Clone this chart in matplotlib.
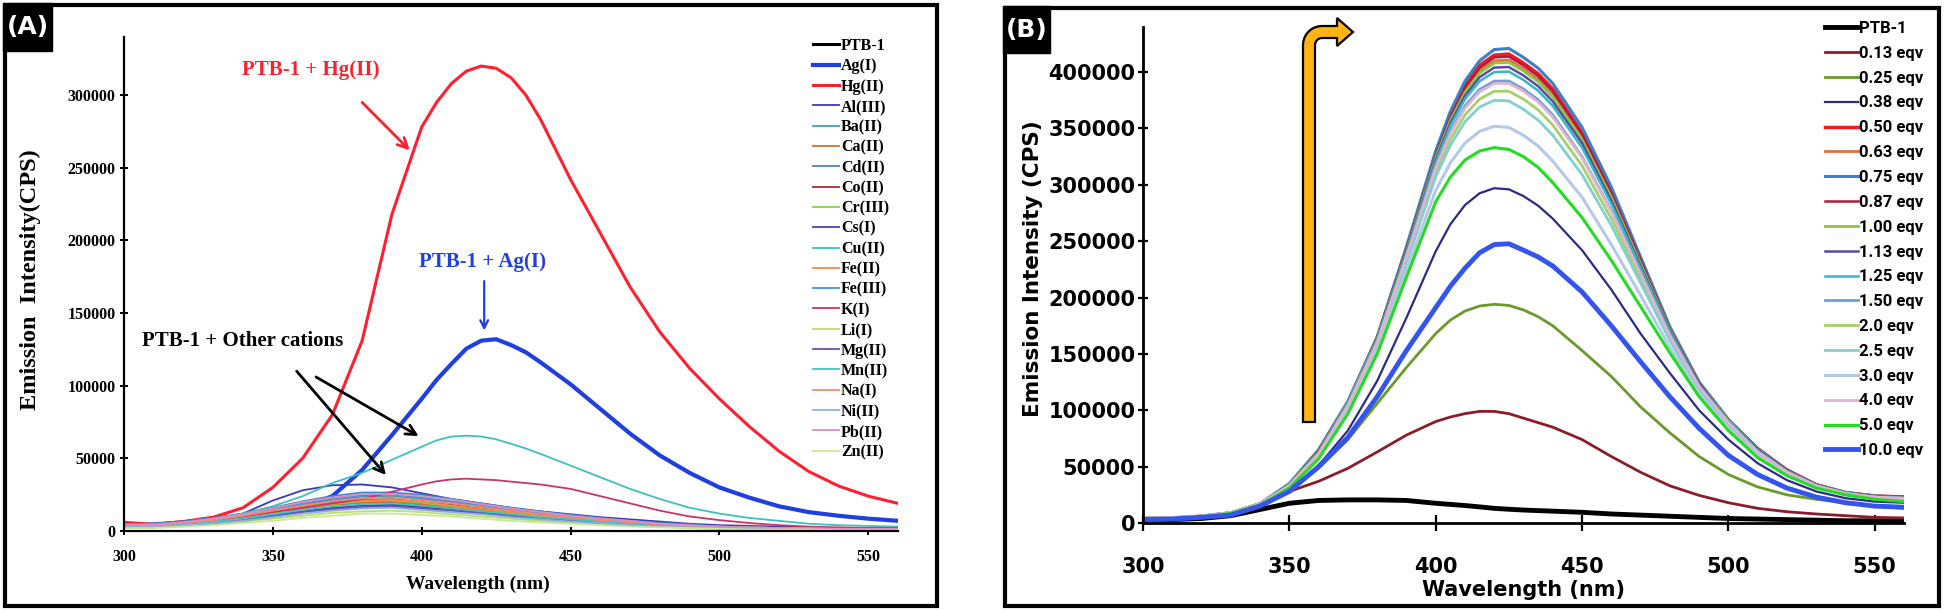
import numpy as np
import matplotlib
matplotlib.use("Agg")
import matplotlib.pyplot as plt
from matplotlib.patches import Rectangle, PathPatch
from matplotlib.path import Path
from matplotlib.font_manager import FontProperties

W, H = 1945, 610

wavelength = [300, 310, 320, 330, 340, 350, 360, 370, 380, 390, 400, 405, 410, 415, 420, 425,
              430, 435, 440, 450, 460, 470, 480, 490, 500, 510, 520, 530, 540, 550, 560]
xticks = [300, 350, 400, 450, 500, 550]

# ---- panel A: emission with different cations (values in 1000 CPS)
a_ptb1 = [3.5, 4, 5, 7, 10, 13, 16, 18.5, 20, 19.5, 18, 17, 16, 15, 14, 13, 12, 11, 10, 8.5, 7, 5.5, 4.5, 3.5, 3, 2.5, 2, 1.5, 1.5, 1, 1]
a_ag = [4, 4.5, 6, 8.5, 10, 12, 16, 24, 42, 66, 91, 104, 115, 125.5, 131, 132, 128, 123, 116, 101, 84, 67, 52, 40, 30, 23, 17, 13, 10.5, 8.5, 7]
a_hg = [6, 4.5, 6.5, 9.5, 16, 30, 50, 80, 131, 218, 278, 295, 308, 316.5, 320, 318.5, 312, 300, 283, 242, 205, 168, 137, 112, 91, 72, 55, 41, 31, 24, 19]
a_al = [3, 3.5, 5, 8, 12, 21, 28, 31.5, 32, 30, 26, 24, 22, 20.5, 19, 17.5, 16, 14.7, 13.5, 11.5, 9.5, 8, 6.5, 5, 4, 3.5, 3, 2.5, 2, 2, 2]
a_ba = [4, 4.5, 6, 8, 11, 14, 18, 21, 23.5, 24, 22, 20.8, 19.5, 18.2, 17, 15.7, 14.5, 13.2, 12, 10, 8, 6, 5, 4, 3, 2.5, 2, 1.5, 1.5, 1, 1]
a_ca = [3.5, 3.5, 5, 6.5, 9, 12, 15, 18, 19.5, 20, 18.5, 17.5, 16.5, 15.2, 14, 13, 12, 11, 10, 8, 6.5, 5, 4, 3, 2.5, 2, 1.5, 1.5, 1, 1, 1]
a_cd = [4.5, 5, 6.5, 9, 12, 16, 20.5, 24, 26.5, 26.5, 25, 23.5, 22, 20.5, 19, 17.5, 16, 14.7, 13.5, 11, 9, 7, 5.5, 4.5, 3, 2.5, 2, 2, 1.5, 1.5, 1.5]
a_co = [3.5, 4, 5.5, 7.5, 10, 13, 16.5, 19.5, 21.5, 22, 20, 19, 18, 16.7, 15.5, 14.2, 13, 12, 11, 9, 7.5, 5.5, 4.5, 3.5, 2.5, 2, 2, 1.5, 1.5, 1, 1]
a_cr = [3.5, 4, 5, 7, 9.5, 12.5, 16, 18.5, 20.5, 21, 19.5, 18.2, 17, 16, 15, 13.7, 12.5, 11.5, 10.5, 8.5, 7, 5.5, 4, 3.5, 2.5, 2, 1.5, 1.5, 1.5, 1, 1]
a_cs = [3, 3, 4.5, 6, 8, 11, 13.5, 16, 17.5, 18, 16.5, 15.7, 15, 14, 13, 12, 11, 10, 9, 7.5, 6, 4.5, 3.5, 3, 2, 2, 1.5, 1.5, 1, 1, 1]
a_cu = [3, 3.5, 5, 8, 12, 17, 24, 33, 40, 49, 58, 62.4, 65, 65.6, 65, 63.1, 60, 56.8, 53, 45, 37, 29, 22, 16, 12, 9, 7, 5, 4, 3.5, 3]
a_fe2 = [3.5, 4, 5.5, 7, 10, 13, 16.5, 19, 21, 21.5, 20, 18.7, 17.5, 16.2, 15, 14, 13, 12, 11, 9, 7, 5.5, 4.5, 3.5, 2.5, 2, 2, 1.5, 1.5, 1, 1]
a_fe3 = [4, 4.5, 6, 8.5, 11.5, 15, 19, 22, 24.5, 25, 23, 21.7, 20.5, 19.2, 18, 16.5, 15, 13.7, 12.5, 10.5, 8.5, 6.5, 5, 4, 3, 2.5, 2, 2, 1.5, 1.5, 1.5]
a_k = [3, 3.5, 5, 7.5, 10, 13, 16, 19, 22, 27, 32, 34.2, 35.5, 36, 35.5, 35, 34, 33, 32, 29, 24, 19, 14, 10, 7.5, 5.5, 4, 3, 2.5, 2, 2]
a_li = [2.5, 2.5, 3.5, 4.5, 6.5, 8.5, 10.5, 12.5, 13.5, 14, 13, 12.2, 11.5, 10.7, 10, 9.2, 8.5, 7.7, 7, 5.5, 4.5, 3.5, 3, 2, 1.5, 1.5, 1, 1, 1, 0.5, 0.5]
a_mg = [3, 3, 4, 5.5, 7.5, 10, 13, 15, 16.5, 17, 15.5, 14.7, 14, 13, 12, 11, 10, 9.2, 8.5, 7, 5.5, 4.5, 3.5, 2.5, 2, 1.5, 1.5, 1, 1, 1, 1]
a_mn = [3, 3.5, 4.5, 6.5, 8.5, 11.5, 14.5, 17, 18.5, 19, 17.5, 16.5, 15.5, 14.5, 13.5, 12.5, 11.5, 10.5, 9.5, 8, 6.5, 5, 4, 3, 2.5, 2, 1.5, 1.5, 1, 1, 1]
a_na = [4, 4, 5.5, 7.5, 10.5, 14, 17.5, 20.5, 22.5, 23, 21, 20, 19, 17.7, 16.5, 15.2, 14, 12.7, 11.5, 9.5, 7.5, 6, 4.5, 3.5, 3, 2.5, 2, 1.5, 1.5, 1, 1]
a_ni = [2.5, 3, 4, 5.5, 7, 9.5, 12, 14, 15.5, 16, 14.5, 13.7, 13, 12.2, 11.5, 10.5, 9.5, 8.7, 8, 6.5, 5.5, 4, 3, 2.5, 2, 1.5, 1.5, 1, 1, 1, 1]
a_pb = [4.5, 4.5, 6, 8.5, 11.5, 15.5, 20, 23, 25.5, 25.5, 24, 22.7, 21.5, 20, 18.5, 17, 15.5, 14.2, 13, 10.5, 8.5, 7, 5, 4, 3, 2.5, 2, 2, 1.5, 1.5, 1.5]
a_zn = [2, 2, 3, 4, 5.5, 7, 9, 10.5, 12, 12, 11, 10.5, 10, 9.2, 8.5, 7.7, 7, 6.5, 6, 5, 4, 3, 2.5, 2, 1.5, 1, 1, 1, 0.5, 0.5, 0.5]

a_labels = ["PTB-1", "Ag(I)", "Hg(II)", "Al(III)", "Ba(II)", "Ca(II)", "Cd(II)", "Co(II)",
            "Cr(III)", "Cs(I)", "Cu(II)", "Fe(II)", "Fe(III)", "K(I)", "Li(I)", "Mg(II)",
            "Mn(II)", "Na(I)", "Ni(II)", "Pb(II)", "Zn(II)"]
a_values = [a_ptb1, a_ag, a_hg, a_al, a_ba, a_ca, a_cd, a_co, a_cr, a_cs, a_cu, a_fe2,
            a_fe3, a_k, a_li, a_mg, a_mn, a_na, a_ni, a_pb, a_zn]
a_colors = ["#000000", "#1f3fe0", "#ff1f2f", "#3a3ab8", "#3aa6b0", "#d0702a", "#3d86d0",
            "#b02838", "#90d040", "#5040b0", "#3cc0c0", "#f4884a", "#4a90d9", "#cc3366",
            "#b8e06a", "#6a50b8", "#40c4c4", "#f08a70", "#8fb0d8", "#e08cc0", "#c8ea98"]
a_widths = [2.2, 3.0, 2.2] + [1.3] * 18
a_yticks = [0, 50000, 100000, 150000, 200000, 250000, 300000]

# ---- panel B: titration with Hg(II) (values in 1000 CPS)
b_ptb1 = [3, 3, 4, 6.5, 12, 17.5, 20, 20.5, 20.5, 20, 17.5, 16.5, 15.5, 14.3, 13, 12.2, 11.5, 11, 10.5, 9.5, 8, 7, 6, 5, 4, 3.5, 3, 2.5, 2, 2, 2]
b_013 = [4, 4, 5.5, 8, 16, 28, 37, 48.5, 63, 78, 90, 94, 97, 99, 99, 97, 93, 89, 85, 74, 59, 45, 33, 24.5, 18, 13, 10, 8, 6.5, 5, 4.5]
b_025 = [4, 4, 5.5, 7, 15, 29, 48.5, 74, 106, 138, 168, 180, 188, 192.5, 194, 193, 189, 183, 175, 153, 130, 103, 80, 59, 43, 32, 25, 21, 18, 15, 13]
b_038 = [4, 4, 5.5, 8, 15, 29, 51, 82, 126, 182, 241, 265, 282, 292.5, 297, 296, 290, 281.5, 270, 242, 207, 168, 133, 100, 74, 53, 38, 28, 22, 19, 18]
b_050 = [4, 4.5, 6, 9, 17, 34, 64, 107, 164, 243, 327, 362, 388, 406, 415, 416, 408, 398.5, 385, 346, 294, 233, 173, 124, 91, 66, 47, 34, 27, 24, 23]
b_063 = [4, 4.5, 6, 9, 17, 34, 63, 107, 163, 242, 325, 358.6, 384, 401, 410, 410.6, 403, 393.5, 380, 342, 291, 231, 171, 124, 91, 65, 46, 34, 27, 24, 22]
b_075 = [4, 4.5, 6, 9, 17, 35, 65, 108, 165, 245, 330, 365, 392, 410, 420, 421, 413, 403.5, 390, 351, 298, 236, 174, 125, 92, 66, 47, 34, 27, 24, 23]
b_087 = [4, 4.5, 6, 9, 17, 34, 64, 107, 164, 243, 326, 360, 386, 403.7, 413, 413.7, 406, 396.5, 383, 345, 293, 233, 172, 124, 91, 65, 47, 34, 27, 24, 23]
b_100 = [4, 4.5, 6, 9, 17, 34, 63, 107, 163, 241, 324, 357, 382, 399, 408, 408.6, 401, 391.5, 378, 340, 289, 230, 171, 123, 91, 65, 46, 34, 27, 24, 22]
b_113 = [4, 4.5, 6, 9, 17, 33, 62, 106, 162, 240, 322, 354.5, 379, 395.5, 404, 404.5, 397, 387.5, 374, 337, 286, 228, 170, 123, 90, 65, 46, 34, 27, 24, 22]
b_125 = [4, 4.5, 6, 9, 17, 33, 62, 106, 162, 239, 320, 352, 376, 392, 400, 400.4, 393, 383.5, 370, 333, 283, 226, 169, 122, 90, 64, 46, 33, 27, 23, 22]
b_150 = [4, 4.5, 6, 9, 17, 33, 61, 105, 160, 236, 316, 347, 370, 384.6, 392, 392.1, 385, 375.5, 362, 325, 277, 222, 167, 121, 89, 63, 45, 33, 26, 23, 22]
b_20 = [4, 4.5, 6, 9, 17, 33, 61, 103, 159, 234, 311, 340, 362, 376, 383, 383, 376, 366.5, 353, 317, 270, 217, 164, 120, 88, 63, 45, 33, 26, 23, 21]
b_25 = [4, 4.5, 6, 9, 17, 32, 60, 102, 157, 231, 307, 335, 356, 369, 375, 374.4, 367, 357.4, 344, 309, 264, 213, 162, 118, 87, 62, 44, 32, 26, 22, 21]
b_30 = [4, 4.5, 6, 9, 16, 32, 58, 99, 153, 224, 295, 319.4, 337, 347.4, 352, 350.9, 344, 334.4, 321, 289, 247, 202, 156, 115, 84, 60, 43, 32, 25, 22, 20]
b_40 = [4, 4.5, 6, 9, 17, 33, 61, 104, 160, 236, 315, 345.4, 368, 382.6, 390, 390.1, 383, 373.5, 360, 324, 276, 221, 166, 121, 89, 63, 45, 33, 26, 23, 22]
b_50 = [4, 4, 5.5, 8.5, 16, 31, 57, 97, 150, 218, 285, 306.8, 322, 330, 333, 331.4, 325, 315.4, 302, 271, 233, 192, 151, 112, 82, 58, 42, 31, 25, 21, 19]
b_10 = [3, 3.5, 5, 7, 15, 28, 50, 76, 112, 153, 191, 210, 226, 239.7, 247, 247.7, 242, 236, 228, 205, 175, 143, 112, 84, 60, 43, 31, 23, 18, 15, 14]

b_labels = ["PTB-1", "0.13 eqv", "0.25 eqv", "0.38 eqv", "0.50 eqv", "0.63 eqv", "0.75 eqv",
            "0.87 eqv", "1.00 eqv", "1.13 eqv", "1.25 eqv", "1.50 eqv", "2.0 eqv", "2.5 eqv",
            "3.0 eqv", "4.0 eqv", "5.0 eqv", "10.0 eqv"]
b_values = [b_ptb1, b_013, b_025, b_038, b_050, b_063, b_075, b_087, b_100, b_113, b_125,
            b_150, b_20, b_25, b_30, b_40, b_50, b_10]
b_colors = ["#000000", "#8b1c2a", "#6a9a2a", "#2a2a8a", "#ee1c25", "#e07040", "#3c7fc8",
            "#b01e3c", "#8cc63f", "#5b4aa8", "#35b8c0", "#6c9fdc", "#a6d06a", "#80d0d0",
            "#b4c9e8", "#e0b4d0", "#22dd22", "#3355ee"]
b_widths = [3.5, 2.0, 2.0, 1.6, 2.5, 2.0, 2.2, 1.8, 2.0, 1.8, 1.8, 2.0, 2.0, 2.0, 2.2, 2.0, 2.2, 3.5]
b_yticks = [0, 50000, 100000, 150000, 200000, 250000, 300000, 350000, 400000]


def fx(x):
    return x / W


def fy(y):
    return 1 - y / H


serif_b = FontProperties(family="Liberation Serif", weight="bold", size=11.5)
sans_b = FontProperties(family="DejaVu Sans", weight="bold", size=15)

fig = plt.figure(figsize=(W / 100, H / 100), dpi=100)

# panel frames and (A)/(B) tags
for x0, y0, x1, y1 in [(5, 5, 937, 606), (1005, 8, 1939, 606)]:
    fig.patches.append(Rectangle((fx(x0), fy(y1)), (x1 - x0) / W, (y1 - y0) / H,
                                 transform=fig.transFigure, fill=False, lw=3, ec="black"))
for x0, y0, x1, y1, tag in [(3, 3, 52, 51, "(A)"), (1003, 6, 1050, 53, "(B)")]:
    fig.patches.append(Rectangle((fx(x0), fy(y1)), (x1 - x0) / W, (y1 - y0) / H,
                                 transform=fig.transFigure, fc="black", ec="black"))
    fig.text(fx((x0 + x1) / 2), fy((y0 + y1) / 2), tag, color="white", fontsize=18,
             fontweight="bold", ha="center", va="center")

# ---------------- panel A
axA = fig.add_axes([fx(124), fy(531), (898 - 124) / W, (531 - 37) / H])
for lab, vals, c, lw in zip(a_labels, a_values, a_colors, a_widths):
    axA.plot(wavelength, np.array(vals) * 1000, color=c, lw=lw, label=lab)
axA.set_xlim(300, 560)
axA.set_ylim(0, 340000)
axA.set_xticks(xticks)
axA.set_xticklabels([str(v) for v in xticks], fontproperties=serif_b)
axA.set_yticks(a_yticks)
axA.set_yticklabels([str(v) for v in a_yticks], fontproperties=serif_b)
axA.tick_params(axis="x", direction="inout", length=6, width=1.4, pad=10)
axA.tick_params(axis="y", direction="inout", length=6, width=1.4, pad=3)
for s in ["top", "right"]:
    axA.spines[s].set_visible(False)
for s in ["left", "bottom"]:
    axA.spines[s].set_linewidth(1.6)
axA.patch.set_alpha(0)

leg_a = FontProperties(family="Liberation Serif", weight="bold", size=11.5)
axA.legend(loc="upper left", bbox_to_anchor=(fx(813), fy(38)), bbox_transform=fig.transFigure,
           frameon=False, borderpad=0, borderaxespad=0, handlelength=1.6, handletextpad=0.15,
           labelspacing=0.27, prop=leg_a)

big_serif = dict(family="Liberation Serif", weight="bold", size=15)
axA.text(362.8, 317000, "PTB-1 + Hg(II)", color="#ff1f2f", ha="center", va="center", fontdict=big_serif)
axA.annotate("", xy=(396, 262000), xytext=(380, 295000),
             arrowprops=dict(arrowstyle="->", color="#ff1f2f", lw=2, mutation_scale=18, shrinkA=0, shrinkB=0))
axA.text(420.5, 185000, "PTB-1 + Ag(I)", color="#1f3fe0", ha="center", va="center", fontdict=big_serif)
axA.annotate("", xy=(421, 138000), xytext=(421, 172000),
             arrowprops=dict(arrowstyle="->", color="#1f3fe0", lw=1.6, mutation_scale=14, shrinkA=0, shrinkB=0))
axA.text(339.8, 131000, "PTB-1 + Other cations", color="black", ha="center", va="center", fontdict=big_serif)
axA.annotate("", xy=(388, 38500), xytext=(358, 110000),
             arrowprops=dict(arrowstyle="->", color="black", lw=2, mutation_scale=18, shrinkA=0, shrinkB=0))
axA.annotate("", xy=(399, 65300), xytext=(364.5, 106000),
             arrowprops=dict(arrowstyle="->", color="black", lw=2, mutation_scale=18, shrinkA=0, shrinkB=0))

fig.text(fx(30), fy(280), "Emission  Intensity(CPS)", rotation=90, ha="center", va="center",
         family="Liberation Serif", fontweight="bold", fontsize=17.5)
fig.text(fx(478), fy(584), "Wavelength (nm)", ha="center", va="center",
         family="Liberation Serif", fontweight="bold", fontsize=14)

# ---------------- panel B
axB = fig.add_axes([fx(1143), fy(523), (1904 - 1143) / W, (523 - 27) / H])
for lab, vals, c, lw in zip(b_labels, b_values, b_colors, b_widths):
    axB.plot(wavelength, np.array(vals) * 1000, color=c, lw=lw, label=lab)
axB.set_xlim(300, 560)
axB.set_ylim(0, 440000)
axB.set_xticks(xticks)
axB.set_xticklabels([str(v) for v in xticks], fontproperties=sans_b)
axB.set_yticks(b_yticks)
axB.set_yticklabels([str(v) for v in b_yticks], fontproperties=sans_b)
axB.tick_params(axis="x", direction="inout", length=11, width=1.6, pad=19)
axB.tick_params(axis="y", direction="inout", length=7, width=1.6, pad=2)
for s in ["top", "right"]:
    axB.spines[s].set_visible(False)
for s in ["left", "bottom"]:
    axB.spines[s].set_linewidth(2.0)
axB.patch.set_alpha(0)

leg_b = FontProperties(family="Roboto", weight="bold", size=12)
axB.legend(loc="upper left", bbox_to_anchor=(fx(1825), fy(21)), bbox_transform=fig.transFigure,
           frameon=False, borderpad=0, borderaxespad=0, handlelength=2.0, handletextpad=0.05,
           labelspacing=0.59, prop=leg_b)

fig.text(fx(1033), fy(269), "Emission Intensity (CPS)", rotation=90, ha="center", va="center",
         family="DejaVu Sans", fontweight="bold", fontsize=15.5)
fig.text(fx(1523), fy(590), "Wavelength (nm)", ha="center", va="center",
         family="DejaVu Sans", fontweight="bold", fontsize=15)

# bent orange arrow (pixel outline -> figure fraction)
cx, cy = 1322, 45
outer = [(cx + 19 * np.cos(t), cy - 19 * np.sin(t)) for t in np.linspace(np.pi, np.pi / 2, 10)]
inner = [(cx + 7 * np.cos(t), cy - 7 * np.sin(t)) for t in np.linspace(np.pi / 2, np.pi, 6)]
pts = [(1303, 422)] + outer + [(1337, 26), (1337, 18), (1353, 32), (1337, 46), (1337, 38)] + inner + [(1315, 422)]
verts = [(fx(x), fy(y)) for x, y in pts] + [(fx(1303), fy(422))]
codes = [Path.MOVETO] + [Path.LINETO] * (len(verts) - 2) + [Path.CLOSEPOLY]
fig.patches.append(PathPatch(Path(verts, codes), transform=fig.transFigure,
                             fc="#ffb414", ec="black", lw=1.6))

fig.savefig("out.png", dpi=100)
